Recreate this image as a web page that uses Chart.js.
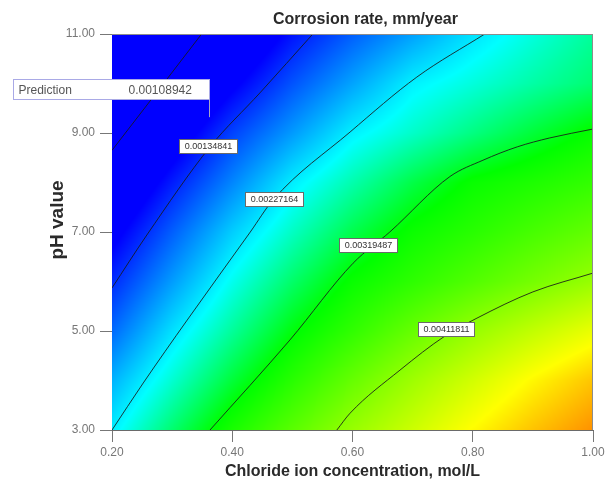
<!DOCTYPE html>
<html>
<head>
<meta charset="utf-8">
<title>Corrosion rate contour</title>
<script src="https://cdn.jsdelivr.net/npm/chart.js@4.4.1/dist/chart.umd.min.js"></script>
<style>
  html, body { margin: 0; padding: 0; background: #fff; }
</style>
</head>
<body>
<canvas id="corrosionChart" width="609" height="484"></canvas>
<script>
// response surface (mm/year)
const chlorideLevels = [0.2, 0.3, 0.4, 0.5, 0.6, 0.7, 0.8, 0.9, 1.0];
const phLevels = [3, 4, 5, 6, 7, 8, 9, 10, 11];
// one row per pH level, one column per chloride level
const corrosionRate = [
  [0.002271, 0.002835, 0.003361, 0.003795, 0.004210, 0.004561, 0.004921, 0.005254, 0.005549],
  [0.001976, 0.002502, 0.003010, 0.003462, 0.003878, 0.004256, 0.004598, 0.004940, 0.005244],
  [0.001616, 0.002198, 0.002687, 0.003158, 0.003518, 0.003878, 0.004201, 0.004487, 0.004764],
  [0.001302, 0.001865, 0.002401, 0.002853, 0.003250, 0.003499, 0.003739, 0.003979, 0.004210],
  [0.000988, 0.001561, 0.002105, 0.002548, 0.002945, 0.003269, 0.003462, 0.003666, 0.003859],
  [0.000656, 0.001228, 0.001754, 0.002262, 0.002622, 0.002964, 0.003250, 0.003389, 0.003536],
  [0.000296, 0.000868, 0.001422, 0.001856, 0.002281, 0.002530, 0.002770, 0.003010, 0.003241],
  [-0.000037, 0.000508, 0.001034, 0.001505, 0.001902, 0.002281, 0.002465, 0.002650, 0.002825],
  [-0.000341, 0.000166, 0.000674, 0.001182, 0.001561, 0.001884, 0.002207, 0.002456, 0.002687],
];

const xTicks = [0.2, 0.4, 0.6, 0.8, 1.0];
const yTicks = [3, 5, 7, 9, 11];

// contour lines as [chloride, pH] pairs
const contourLevels = [0.00042518, 0.00134841, 0.00227164, 0.00319487, 0.00411811];
const contour0 = [[0.2, 8.65], [0.275, 9.83], [0.349, 11.0]];
const contour1 = [[0.2, 5.87], [0.258, 6.94], [0.363, 8.72], [0.446, 9.81], [0.534, 11.0]];
const contour2 = [[0.2, 3.0], [0.252, 3.95], [0.325, 5.22], [0.43, 7.0], [0.468, 7.65], [0.596, 9.02], [0.707, 10.13], [0.82, 11.0]];
const contour3 = [[0.363, 3.0], [0.496, 4.82], [0.601, 6.37], [0.662, 7.0], [0.762, 8.12], [0.817, 8.45], [0.874, 8.72], [0.928, 8.9], [1.0, 9.08]];
const contour4 = [[0.574, 3.0], [0.596, 3.34], [0.679, 4.21], [0.754, 4.9], [0.807, 5.26], [0.9, 5.79], [1.0, 6.17]];
const contourLines = [contour0, contour1, contour2, contour3, contour4];

// where each level is labelled (index into contourLevels, chloride, pH)
const contourLabels = [[1, 0.36, 8.74], [2, 0.469, 7.66], [3, 0.625, 6.74], [4, 0.755, 5.05]];

// prediction flag
const predictionAt = [0.361, 9.32];
const predictionValue = 0.00108942;

// colour ramp: rate -> rgb
const rampRates = [0.0011, 0.00235, 0.0032, 0.0049, 0.0064];
const rampColors = [[0, 0, 255], [0, 255, 255], [0, 255, 0], [255, 255, 0], [255, 0, 0]];

const SANS = "'Liberation Sans', Arial, sans-serif";

function sampleRate(cl, ph) {
  const n = chlorideLevels.length - 1;
  const m = phLevels.length - 1;
  let i = 0;
  while (i < n - 1 && cl > chlorideLevels[i + 1]) i++;
  let j = 0;
  while (j < m - 1 && ph > phLevels[j + 1]) j++;
  const tx = Math.min(1, Math.max(0, (cl - chlorideLevels[i]) / (chlorideLevels[i + 1] - chlorideLevels[i])));
  const ty = Math.min(1, Math.max(0, (ph - phLevels[j]) / (phLevels[j + 1] - phLevels[j])));
  const a = corrosionRate[j][i] * (1 - tx) + corrosionRate[j][i + 1] * tx;
  const b = corrosionRate[j + 1][i] * (1 - tx) + corrosionRate[j + 1][i + 1] * tx;
  return a * (1 - ty) + b * ty;
}

function rateColor(v) {
  if (v <= rampRates[0]) return rampColors[0];
  const last = rampRates.length - 1;
  if (v >= rampRates[last]) return rampColors[last];
  let k = 0;
  while (v > rampRates[k + 1]) k++;
  const t = (v - rampRates[k]) / (rampRates[k + 1] - rampRates[k]);
  const c0 = rampColors[k], c1 = rampColors[k + 1];
  return [0, 1, 2].map((c) => Math.round(c0[c] + (c1[c] - c0[c]) * t));
}

// paints the surface under the contour lines
const surfacePlugin = {
  id: "surface",
  beforeDatasetsDraw(chart) {
    const { ctx, chartArea: a, scales } = chart;
    const w = Math.round(a.right - a.left);
    const h = Math.round(a.bottom - a.top);
    const off = document.createElement("canvas");
    off.width = w;
    off.height = h;
    const octx = off.getContext("2d");
    const img = octx.createImageData(w, h);
    for (let j = 0; j < h; j++) {
      const ph = scales.y.getValueForPixel(a.top + j + 0.5);
      for (let i = 0; i < w; i++) {
        const cl = scales.x.getValueForPixel(a.left + i + 0.5);
        const rgb = rateColor(sampleRate(cl, ph));
        const p = (j * w + i) * 4;
        img.data[p] = rgb[0];
        img.data[p + 1] = rgb[1];
        img.data[p + 2] = rgb[2];
        img.data[p + 3] = 255;
      }
    }
    octx.putImageData(img, 0, 0);
    ctx.drawImage(off, a.left, a.top);
  },
};

// contour labels, prediction flag, frame and titles
const overlayPlugin = {
  id: "overlay",
  afterDatasetsDraw(chart) {
    const { ctx, chartArea: a, scales } = chart;
    ctx.save();

    // top / right frame
    ctx.strokeStyle = "#8c8c8c";
    ctx.lineWidth = 1;
    ctx.beginPath();
    ctx.moveTo(a.left, a.top + 0.5);
    ctx.lineTo(a.right - 0.5, a.top + 0.5);
    ctx.lineTo(a.right - 0.5, a.bottom);
    ctx.stroke();

    ctx.font = "9px " + SANS;
    ctx.textAlign = "center";
    ctx.textBaseline = "middle";
    contourLabels.forEach(([lvl, cl, ph]) => {
      const px = scales.x.getPixelForValue(cl);
      const py = scales.y.getPixelForValue(ph);
      const text = contourLevels[lvl].toFixed(8);
      const bw = Math.round(ctx.measureText(text).width + 10);
      const bh = 14;
      const bx = Math.round(px - bw / 2) + 0.5;
      const by = Math.round(py - bh / 2) + 0.5;
      ctx.fillStyle = "#ffffff";
      ctx.fillRect(bx, by, bw, bh);
      ctx.strokeStyle = "#6a6a6a";
      ctx.strokeRect(bx, by, bw, bh);
      ctx.fillStyle = "#333";
      ctx.fillText(text, bx + bw / 2, by + bh / 2 + 0.5);
    });

    // prediction flag
    const fx = Math.round(scales.x.getPixelForValue(predictionAt[0])) + 0.5;
    const fy = scales.y.getPixelForValue(predictionAt[1]);
    const boxW = 196, boxH = 20;
    const boxTop = Math.round(fy - 18 - boxH) + 0.5;
    ctx.fillStyle = "#ffffff";
    ctx.fillRect(fx - boxW, boxTop, boxW, boxH);
    ctx.strokeStyle = "#a9a9e6";
    ctx.strokeRect(fx - boxW, boxTop, boxW, boxH);
    ctx.strokeStyle = "#a6a6c8";
    ctx.beginPath();
    ctx.moveTo(fx, boxTop + boxH);
    ctx.lineTo(fx, fy);
    ctx.stroke();
    ctx.fillStyle = "#555";
    ctx.font = "12px " + SANS;
    ctx.textAlign = "left";
    ctx.fillText("Prediction", fx - boxW + 5, boxTop + boxH / 2 + 1);
    ctx.fillText(predictionValue.toFixed(8), fx - boxW + 115, boxTop + boxH / 2 + 1);

    ctx.restore();
  },
  afterDraw(chart) {
    const { ctx, chartArea: a } = chart;
    ctx.save();
    ctx.fillStyle = "#2a2a2a";
    ctx.textAlign = "center";
    ctx.textBaseline = "middle";
    ctx.font = "bold 16px " + SANS;
    ctx.fillText("Corrosion rate, mm/year", (a.left + a.right) / 2 + 13, 20);
    // y axis title sits a little above the axis middle
    ctx.translate(58, (a.top + a.bottom) / 2 - 12);
    ctx.rotate(-Math.PI / 2);
    ctx.font = "bold 19px " + SANS;
    ctx.fillText("pH value", 0, 0);
    ctx.restore();
  },
};

const datasets = contourLines.map((line, idx) => ({
  label: contourLevels[idx].toFixed(8),
  data: line.map(([cl, ph]) => ({ x: cl, y: ph })),
  showLine: true,
  borderColor: "rgba(25, 25, 25, 0.85)",
  borderWidth: 1,
  pointRadius: 0,
  cubicInterpolationMode: "monotone",
  fill: false,
}));

new Chart(document.getElementById("corrosionChart"), {
  type: "scatter",
  data: { datasets: datasets },
  options: {
    responsive: false,
    animation: false,
    layout: { padding: { top: 34, right: 16, left: 0, bottom: 0 } },
    plugins: {
      legend: { display: false },
      tooltip: { enabled: false },
    },
    scales: {
      x: {
        type: "linear",
        min: 0.2,
        max: 1.0,
        afterBuildTicks: (s) => { s.ticks = xTicks.map((v) => ({ value: v })); },
        afterFit: (s) => { s.height = 54; },
        ticks: {
          callback: (v) => Number(v).toFixed(2),
          color: "#777",
          font: { family: SANS, size: 12 },
          padding: 3,
          maxRotation: 0,
        },
        grid: { drawOnChartArea: false, tickLength: 12, color: "#777" },
        border: { color: "#6a6a6a" },
        title: {
          display: true,
          text: "Chloride ion concentration, mol/L",
          color: "#2a2a2a",
          font: { family: SANS, size: 16, weight: "bold" },
          padding: { top: 0, bottom: 3 },
        },
      },
      y: {
        type: "linear",
        min: 3,
        max: 11,
        afterBuildTicks: (s) => { s.ticks = yTicks.map((v) => ({ value: v })); },
        afterFit: (s) => { s.width = 112; },
        ticks: {
          callback: (v) => Number(v).toFixed(2),
          color: "#777",
          font: { family: SANS, size: 12 },
          padding: 5,
        },
        grid: { drawOnChartArea: false, tickLength: 12, color: "#777" },
        border: { color: "#6a6a6a" },
      },
    },
  },
  plugins: [surfacePlugin, overlayPlugin],
});
</script>
</body>
</html>
